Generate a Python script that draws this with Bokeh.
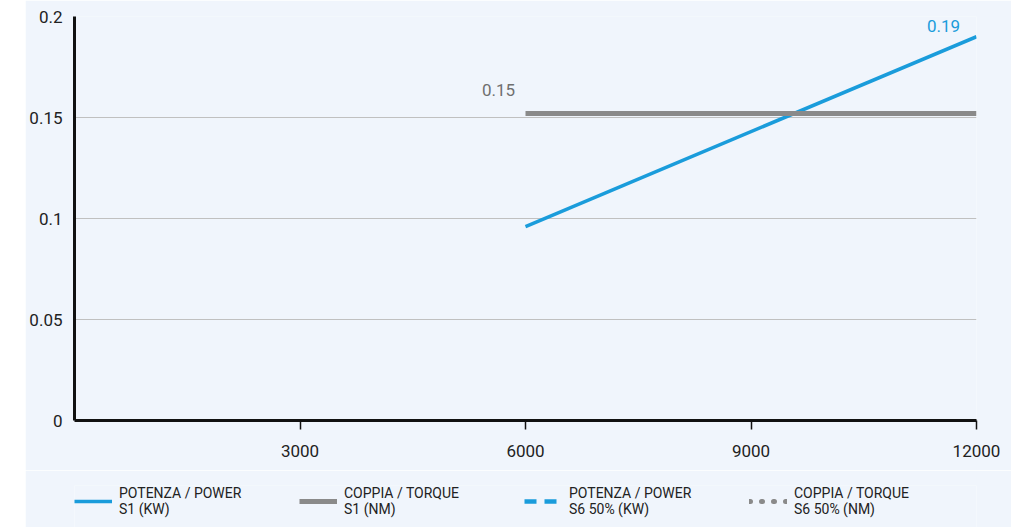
from bokeh.plotting import figure
from bokeh.models import Range1d, FixedTicker, Legend, LegendItem, Spacer
from bokeh.layouts import row, column
from bokeh.embed import file_html
from bokeh.resources import INLINE
from bokeh.core.properties import value

# ---- data ----
speed_power_s1 = [6000, 12000]
power_s1 = [0.096, 0.19]
speed_torque_s1 = [6000, 12000]
torque_s1 = [0.152, 0.152]
x_ticks = [3000, 6000, 9000, 12000]
y_ticks = [0, 0.05, 0.1, 0.15, 0.2]
y_tick_labels = ["0", "0.05", "0.1", "0.15", "0.2"]
legend_labels = ["POTENZA / POWER\nS1 (KW)", "COPPIA / TORQUE\nS1 (NM)",
                 "POTENZA / POWER\nS6 50% (KW)", "COPPIA / TORQUE\nS6 50% (NM)"]
NAN = [float("nan")]

BG = "#f0f5fc"
BLUE = "#1a9cdb"
GRAY = "#8a8a8a"
FONT = "Roboto"

p = figure(frame_width=902, frame_height=404, output_backend="svg", toolbar_location=None,
           x_range=Range1d(0, 12000), y_range=Range1d(0, 0.2),
           min_border_left=49, min_border_right=35, min_border_top=16, min_border_bottom=50)
p.background_fill_color = BG
p.border_fill_color = BG
p.outline_line_color = None

p.xgrid.grid_line_color = None
p.ygrid.ticker = FixedTicker(ticks=y_ticks)
p.ygrid.grid_line_color = "#c0c0c0"
p.ygrid.grid_line_width = 1

p.xaxis.ticker = FixedTicker(ticks=x_ticks)
p.yaxis.ticker = FixedTicker(ticks=y_ticks)
p.yaxis.major_label_overrides = {t: l for t, l in zip(y_ticks, y_tick_labels)}
for ax in (p.xaxis, p.yaxis):
    ax.axis_line_width = 3
    ax.axis_line_color = "#111111"
    ax.minor_tick_line_color = None
    ax.major_label_text_font = FONT
    ax.major_label_text_font_size = "17px"
    ax.major_label_text_color = "#222222"
p.xaxis.major_tick_out = 9
p.xaxis.major_tick_in = 0
p.xaxis.major_tick_line_width = 1.5
p.xaxis.major_tick_line_color = "#111111"
p.xaxis.major_label_standoff = 15
p.yaxis.major_tick_out = 0
p.yaxis.major_tick_in = 0
p.yaxis.major_tick_line_color = None
p.yaxis.major_label_standoff = 12

p.line(speed_power_s1, power_s1, line_color=BLUE, line_width=3.5)
p.line(speed_torque_s1, torque_s1, line_color=GRAY, line_width=5)

p.text(x=[speed_torque_s1[0]], y=[torque_s1[0]], text=[f"{torque_s1[0]:.2f}"],
       x_offset=-27, y_offset=-23, text_align="center", text_baseline="middle",
       text_font=value(FONT), text_font_size="17px", text_color="#6f6f6f")
p.text(x=[speed_power_s1[-1]], y=[power_s1[-1]], text=[f"{power_s1[-1]:.2f}"],
       x_offset=-33, y_offset=-11, text_align="center", text_baseline="middle",
       text_font=value(FONT), text_font_size="17px", text_color=BLUE)

# ---- legend strip ----
lg = figure(width=986, height=57, output_backend="svg", toolbar_location=None,
            min_border_left=40, min_border_right=0, min_border_top=15, min_border_bottom=0,
            x_range=Range1d(0, 1), y_range=Range1d(0, 1))
lg.axis.visible = False
lg.grid.visible = False
lg.outline_line_color = None
lg.background_fill_color = BG
lg.border_fill_color = BG
l1 = lg.line(NAN, NAN, line_color=BLUE, line_width=3.5)
l2 = lg.line(NAN, NAN, line_color=GRAY, line_width=5)
l3 = lg.line(NAN, NAN, line_color=BLUE, line_width=4.5, line_dash="12 8")
l4 = lg.line(NAN, NAN, line_color=GRAY, line_width=5, line_dash="1 11", line_cap="round")

legend = Legend(items=[LegendItem(label=l, renderers=[r]) for l, r in zip(legend_labels, [l1, l2, l3, l4])],
                orientation="horizontal", location="top_left",
                glyph_width=38, glyph_height=18, label_standoff=7, label_width=180,
                spacing=0, padding=0, margin=0,
                label_text_font=FONT, label_text_font_size="14px", label_text_color="#222222",
                label_text_line_height=1.25,
                background_fill_alpha=0, border_line_color=None)
lg.add_layout(legend)

layout = row(Spacer(width=25, height=10), column(p, lg, spacing=0), spacing=0)
open("out.html", "w").write(file_html(layout, INLINE))
